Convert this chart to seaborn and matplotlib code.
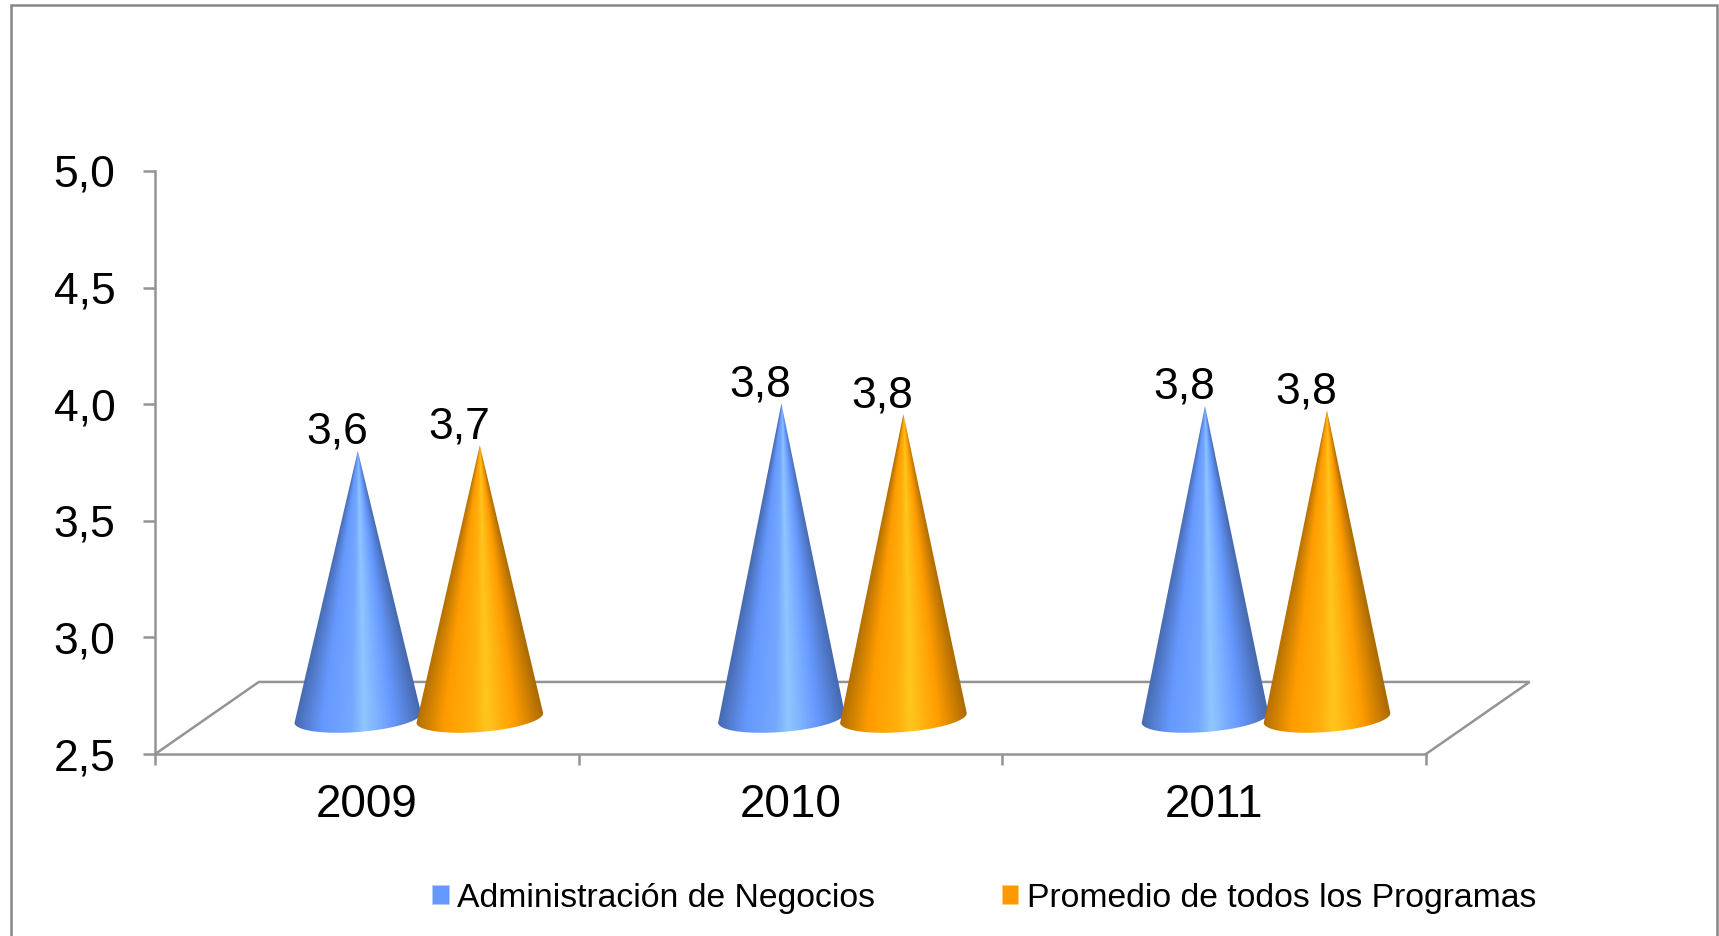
import numpy as np
import pandas as pd
import matplotlib
matplotlib.use("Agg")
import matplotlib.pyplot as plt
from matplotlib.patches import Patch, Polygon, Rectangle
import seaborn as sns

# ---- data ----
years = ["2009", "2010", "2011"]
admin_values = [3.645, 3.848, 3.838]
average_values = [3.669, 3.803, 3.818]
series_names = ["Administración de Negocios", "Promedio de todos los Programas"]
y_ticks = [2.5, 3.0, 3.5, 4.0, 4.5, 5.0]
y_tick_labels = ["2,5", "3,0", "3,5", "4,0", "4,5", "5,0"]

# ---- style ----
W, H = 1719, 936
GREY = "#949494"
FRAME = "#868686"
BLUE = "#6699FF"
ORANGE = "#FF9900"
DEPTH_X, DEPTH_Y = 0.2446, 0.309
ramps = {
    series_names[0]: ["#4669AE", "#6699FF", "#74A8FF", "#8FC6FF", "#6699FF", "#4669AE"],
    series_names[1]: ["#B06E00", "#FF9C00", "#FFB00C", "#FFC61E", "#FF9C00", "#AA6A00"],
}
RAMP_U = [-1.0, -0.55, -0.1, 0.1, 0.55, 1.0]

sns.set_theme(style="white")
plt.rcParams["font.family"] = ["Liberation Sans", "DejaVu Sans"]

fig = plt.figure(figsize=(W / 100, H / 100), dpi=100, facecolor="white")
ax = fig.add_axes([155.2 / W, 1 - 754 / H, (1426 - 155.2) / W, (754 - 171) / H])

df = pd.DataFrame({
    "year": years * 2,
    "value": admin_values + average_values,
    "series": [series_names[0]] * 3 + [series_names[1]] * 3,
})
sns.barplot(data=df, x="year", y="value", hue="series", order=years,
            hue_order=series_names, palette=[BLUE, ORANGE], width=0.576,
            gap=0, errorbar=None, legend=False, ax=ax)

ax.set_xlim(-0.5, 2.5)
ax.set_ylim(2.5, 5.0)
ax.set_xlabel("")
ax.set_ylabel("")
sx = ax.bbox.width / 3
sy = ax.bbox.height / 2.5

# ---- axes ----
for s in ("top", "right"):
    ax.spines[s].set_visible(False)
for s in ("left", "bottom"):
    ax.spines[s].set_color(GREY)
    ax.spines[s].set_linewidth(1.8)
ax.set_yticks(y_ticks)
ax.set_yticklabels(y_tick_labels)
ax.set_xticks([-0.5, 0.5, 1.5, 2.5])
ax.set_xticklabels([])
ax.set_xticks([0, 1, 2], minor=True)
ax.set_xticklabels(years, minor=True)
ax.tick_params(axis="y", which="major", left=True, length=8.6, width=1.8, color=GREY,
               pad=20, labelsize=32, labelcolor="black")
ax.tick_params(axis="x", which="major", bottom=True, length=8, width=1.8, color=GREY)
ax.tick_params(axis="x", which="minor", bottom=False, length=0, pad=21,
               labelsize=33, labelcolor="black")
for lab in ax.get_yticklabels():
    lab.set_verticalalignment("center_baseline")

# ---- floor ----
ax.plot([-0.5, -0.5 + DEPTH_X, 2.5 + DEPTH_X, 2.5],
        [2.5, 2.5 + DEPTH_Y, 2.5 + DEPTH_Y, 2.5],
        color=GREY, lw=1.8, clip_on=False, zorder=1, solid_joinstyle="miter")

# ---- cones built on the bars seaborn computed ----
tilt = np.deg2rad(4.5)
a_px, b_px = 63.5, 14.0
a = a_px / sx
for series, container in zip(series_names, ax.containers):
    stops = np.array([matplotlib.colors.to_rgb(c) for c in ramps[series]])
    for k, bar in enumerate(container):
        bar.set_visible(False)
        value = bar.get_height()
        xc = bar.get_x() + bar.get_width() / 2 + DEPTH_X / 2
        yb = 2.5 + DEPTH_Y / 2
        tip = value + DEPTH_Y / 2      # value is measured from the mid-depth floor
        # outline: tip + front half of a slightly tilted base ellipse
        t = np.linspace(0, -np.pi, 80)
        ex = a_px * np.cos(t) * np.cos(tilt) - b_px * np.sin(t) * np.sin(tilt)
        ey = a_px * np.cos(t) * np.sin(tilt) + b_px * np.sin(t) * np.cos(tilt)
        px = np.r_[xc, xc + ex / sx]
        py = np.r_[tip, yb + ey / sy]
        # shading converges to the tip
        ext = [xc - 1.1 * a, xc + 1.1 * a, yb - 0.1, tip]
        gx = np.linspace(ext[0], ext[1], 500)
        gy = np.linspace(ext[2], ext[3], 800)
        X, Y = np.meshgrid(gx, gy)
        frac = np.clip((tip - Y) / (tip - yb), 1e-3, 1)
        u = np.clip((X - xc) / (a * frac), -1, 1)
        rgb = np.dstack([np.interp(u, RAMP_U, stops[:, i]) for i in range(3)])
        z = 3 + (0 if series == series_names[0] else 1)
        im = ax.imshow(rgb, extent=ext, origin="lower", aspect="auto", zorder=z,
                       interpolation="bilinear")
        clip = Polygon(np.c_[px, py], closed=True, transform=ax.transData)
        im.set_clip_path(clip)
        ax.text(xc - 21 / sx, tip + 7 / sy, f"{value:.1f}".replace(".", ","),
                ha="center", va="baseline", fontsize=32, color="black", zorder=6)
ax.set_xlim(-0.5, 2.5)
ax.set_ylim(2.5, 5.0)

# ---- legend ----
handles = [Patch(facecolor=BLUE, edgecolor="#B5CCFF", lw=0.5),
           Patch(facecolor=ORANGE, edgecolor="#FFCC80", lw=0.5)]
fig.legend(handles, series_names, loc="center left",
           bbox_to_anchor=(432 / W, 1 - 898 / H), bbox_transform=fig.transFigure,
           ncol=2, frameon=False, fontsize=24.3, handlelength=0.5, handleheight=0.48,
           handletextpad=0.24, columnspacing=3.75, borderpad=0, borderaxespad=0,
           labelcolor="black")

# ---- outer frame (bottom edge runs off the picture) ----
fig.add_artist(Rectangle((10.5 / W, -0.05), (1717 - 10.5) / W, 1.05 - 5.5 / H,
                         transform=fig.transFigure, fill=False,
                         edgecolor=FRAME, lw=1.8))

fig.savefig("out.png", dpi=100, facecolor="white")
